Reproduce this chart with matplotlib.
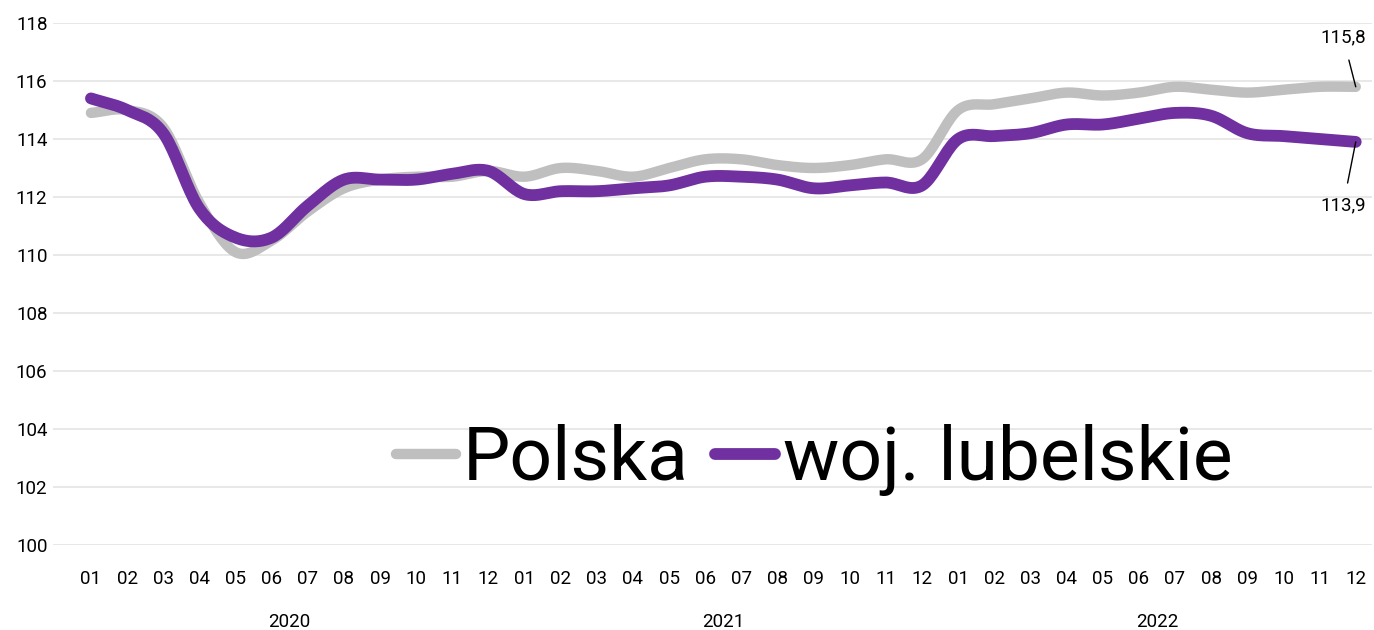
import numpy as np
import matplotlib.pyplot as plt
from matplotlib.transforms import blended_transform_factory

plt.rcParams['font.family'] = ['Roboto', 'DejaVu Sans']

months = ['01', '02', '03', '04', '05', '06', '07', '08', '09', '10', '11', '12'] * 3
years = ['2020', '2021', '2022']

polska = [114.9, 115.0, 114.4, 111.8, 110.1, 110.5, 111.5, 112.3, 112.6, 112.7, 112.7, 112.9,
          112.7, 113.0, 112.9, 112.7, 113.0, 113.3, 113.3, 113.1, 113.0, 113.1, 113.3, 113.3,
          115.0, 115.2, 115.4, 115.6, 115.5, 115.6, 115.8, 115.7, 115.6, 115.7, 115.8, 115.8]
lubelskie = [115.4, 115.0, 114.2, 111.6, 110.6, 110.6, 111.7, 112.6, 112.6, 112.6, 112.8, 112.9,
             112.1, 112.2, 112.2, 112.3, 112.4, 112.7, 112.7, 112.6, 112.3, 112.4, 112.5, 112.4,
             114.0, 114.1, 114.2, 114.5, 114.5, 114.7, 114.9, 114.8, 114.2, 114.1, 114.0, 113.9]


def smooth(x, y, n=20):
    # Catmull-Rom sweep between points, like spreadsheet "smoothed line"
    x = np.asarray(x, float)
    y = np.asarray(y, float)
    px = np.concatenate([[2 * x[0] - x[1]], x, [2 * x[-1] - x[-2]]])
    py = np.concatenate([[2 * y[0] - y[1]], y, [2 * y[-1] - y[-2]]])
    xs, ys = [], []
    t = np.linspace(0, 1, n, endpoint=False)
    for i in range(1, len(px) - 2):
        for p, out in ((px, xs), (py, ys)):
            p0, p1, p2, p3 = p[i - 1], p[i], p[i + 1], p[i + 2]
            b1 = p1 + (p2 - p0) / 6
            b2 = p2 - (p3 - p1) / 6
            out.extend((1 - t) ** 3 * p1 + 3 * (1 - t) ** 2 * t * b1 + 3 * (1 - t) * t ** 2 * b2 + t ** 3 * p2)
    xs.append(x[-1])
    ys.append(y[-1])
    return np.array(xs), np.array(ys)


x = np.arange(len(months))

fig = plt.figure(figsize=(13.74, 6.3), dpi=100)
ax = fig.add_axes([53 / 1374, 85 / 630, 1319 / 1374, 522 / 630])

sx, sy = smooth(x, polska)
ax.plot(sx, sy, color='#BFBFBF', lw=7.5, solid_capstyle='round', label='Polska')
sx, sy = smooth(x, lubelskie)
ax.plot(sx, sy, color='#7030A0', lw=8.5, solid_capstyle='round', label='woj. lubelskie')

ax.set_ylim(100, 118)
ax.set_yticks(np.arange(100, 119, 2))
ax.set_xlim(-1.05, 35.45)
ax.set_xticks(x)
ax.set_xticklabels(months)
ax.grid(axis='y', color='#E4E4E4', lw=1.2)
ax.set_axisbelow(True)
for s in ax.spines.values():
    s.set_visible(False)
ax.tick_params(length=0, labelsize=13.5, colors='#000000')
ax.tick_params(axis='x', pad=18)
ax.tick_params(axis='y', pad=4)

trans = blended_transform_factory(ax.transData, ax.transAxes)
for i, yr in enumerate(years):
    ax.text(i * 12 + 5.5, -0.148, yr, transform=trans, ha='center', va='center', fontsize=13.5)

ax.annotate(f'{polska[-1]:.1f}'.replace('.', ','), xy=(x[-1], polska[-1]),
            xytext=(x[-1] - 0.35, 117.5), ha='center', va='center', fontsize=13.5,
            arrowprops=dict(arrowstyle='-', color='black', lw=1, shrinkA=8, shrinkB=0))
ax.annotate(f'{lubelskie[-1]:.1f}'.replace('.', ','), xy=(x[-1], lubelskie[-1]),
            xytext=(x[-1] - 0.35, 111.7), ha='center', va='center', fontsize=13.5,
            arrowprops=dict(arrowstyle='-', color='black', lw=1, shrinkA=8, shrinkB=0))

ax.legend(loc='center', bbox_to_anchor=(0.577, 0.163), ncol=2, frameon=False,
          fontsize=54, handlelength=0.8, handletextpad=0.1, columnspacing=0.35,
          borderpad=0)

fig.savefig('out.png', dpi=100)
